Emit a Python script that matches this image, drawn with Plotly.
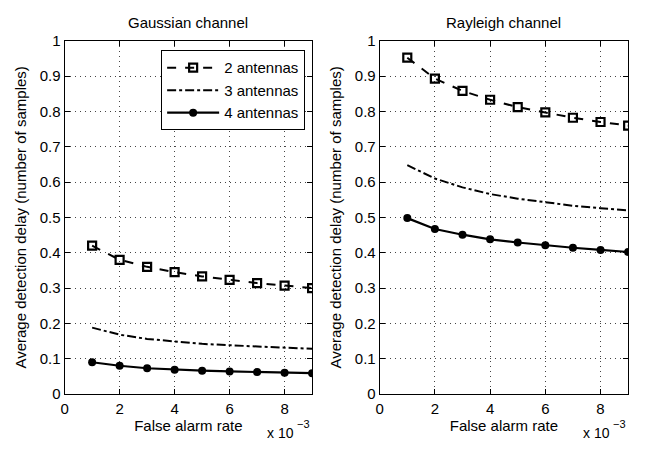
import plotly.graph_objects as go

far = [1, 2, 3, 4, 5, 6, 7, 8, 9]  # false alarm rate, x 10^-3

gauss_2 = [0.420, 0.380, 0.360, 0.345, 0.333, 0.323, 0.314, 0.307, 0.300]
gauss_3 = [0.188, 0.168, 0.156, 0.148, 0.142, 0.138, 0.134, 0.131, 0.128]
gauss_4 = [0.090, 0.080, 0.073, 0.069, 0.066, 0.064, 0.062, 0.060, 0.059]

rayl_2 = [0.952, 0.893, 0.858, 0.833, 0.812, 0.797, 0.782, 0.770, 0.760]
rayl_3 = [0.648, 0.610, 0.585, 0.566, 0.553, 0.542, 0.533, 0.526, 0.520]
rayl_4 = [0.498, 0.467, 0.451, 0.438, 0.429, 0.421, 0.414, 0.408, 0.402]

names = ["2 antennas", "3 antennas", "4 antennas"]
titles = ["Gaussian channel", "Rayleigh channel"]
x_ticks = [0, 2, 4, 6, 8]
y_ticks = [0, 0.1, 0.2, 0.3, 0.4, 0.5, 0.6, 0.7, 0.8, 0.9, 1]
y_tick_text = ["0", "0.1", "0.2", "0.3", "0.4", "0.5", "0.6", "0.7", "0.8", "0.9", "1"]

FONT = "Liberation Sans, Arial, Helvetica, sans-serif"
W, H = 651, 454
FS = 15

fig = go.Figure()

styles = [
    dict(mode="lines+markers", line=dict(color="black", width=2, dash="dash"),
         marker=dict(symbol="square-open", size=8, color="black", line=dict(width=2.2, color="black"))),
    dict(mode="lines", line=dict(color="black", width=2, dash="dashdot")),
    dict(mode="lines+markers", line=dict(color="black", width=2.2),
         marker=dict(symbol="circle", size=8, color="black")),
]

for i, (series, xa, ya) in enumerate([
    ([gauss_2, gauss_3, gauss_4], "x", "y"),
    ([rayl_2, rayl_3, rayl_4], "x2", "y2"),
]):
    for j, vals in enumerate(series):
        fig.add_trace(go.Scatter(x=far, y=vals, name=names[j], xaxis=xa, yaxis=ya,
                                 showlegend=(i == 0), **styles[j]))

# pixel layout
left_dom = [61 / W, 310 / W]
right_dom = [378 / W, 628 / W]
ydom = [(H - 400) / H, (H - 33) / H]

axis_common = dict(showline=True, linecolor="black", linewidth=1, mirror="ticks",
                   ticks="inside", ticklen=5, tickcolor="black",
                   showgrid=True, gridcolor="#444444", griddash="1px,4px", gridwidth=1,
                   zeroline=False, tickfont=dict(family=FONT, size=FS, color="black"))

xcommon = dict(axis_common, range=[0, 9], tickvals=x_ticks, ticklabelstandoff=1,
               title=dict(text="False alarm rate", font=dict(family=FONT, size=FS, color="black"), standoff=4))
ycommon = dict(axis_common, range=[0, 1], tickvals=y_ticks, ticktext=y_tick_text,
               title=dict(text="Average detection delay (number of samples)",
                          font=dict(family=FONT, size=FS, color="black"), standoff=9))

fig.update_layout(
    width=W, height=H,
    margin=dict(l=0, r=0, t=0, b=0),
    paper_bgcolor="white", plot_bgcolor="white",
    font=dict(family=FONT, size=FS, color="black"),
    xaxis=dict(xcommon, domain=left_dom, anchor="y"),
    yaxis=dict(ycommon, domain=ydom, anchor="x"),
    xaxis2=dict(xcommon, domain=right_dom, anchor="y2"),
    yaxis2=dict(ycommon, domain=ydom, anchor="x2"),
    legend=dict(x=303 / W, y=(H - 43) / H, xanchor="right", yanchor="top",
                bordercolor="black", borderwidth=1, bgcolor="white",
                font=dict(family=FONT, size=FS, color="black"),
                itemwidth=52, tracegroupgap=0),
    showlegend=True,
)

# subplot titles and axis multipliers
for dom, t in zip([left_dom, right_dom], titles):
    fig.add_annotation(text=t, x=(dom[0] + dom[1]) / 2, y=(H - 14) / H, xref="paper", yref="paper",
                       showarrow=False, font=dict(family=FONT, size=FS, color="black"),
                       xanchor="center", yanchor="middle")
    fig.add_annotation(text="x 10", x=dom[1] - 16 / W, y=(H - 440) / H, xref="paper", yref="paper",
                       showarrow=False, font=dict(family=FONT, size=14, color="black"),
                       xanchor="right", yanchor="middle")
    fig.add_annotation(text="−3", x=dom[1] - 17 / W, y=(H - 431) / H, xref="paper", yref="paper",
                       showarrow=False, font=dict(family=FONT, size=11, color="black"),
                       xanchor="left", yanchor="middle")

fig.write_html("out.html")
